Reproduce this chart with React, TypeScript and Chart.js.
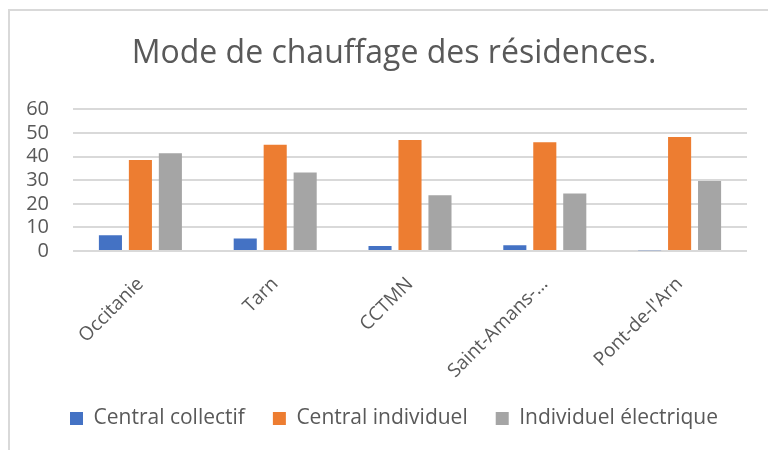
import React, { useEffect, useRef } from "react";
import { Chart, registerables } from "chart.js";

Chart.register(...registerables);

const categories = ["Occitanie", "Tarn", "CCTMN", "Saint-Amans-…", "Pont-de-l'Arn"];
const centralCollectif = [6.7, 5.3, 2.1, 2.4, 0.3];
const centralIndividuel = [38.6, 45.0, 47.0, 46.1, 48.3];
const individuelElectrique = [41.4, 33.3, 23.6, 24.4, 29.7];
const seriesNames = ["Central collectif", "Central individuel", "Individuel électrique"];
const titleText = "Mode de chauffage des résidences.";

const FONT = "'Open Sans', sans-serif";
const TEXT = "#595959";

export default function App() {
  const ref = useRef<HTMLCanvasElement | null>(null);

  useEffect(() => {
    document.body.style.margin = "0";
    const ctx = ref.current!;
    const chart = new Chart(ctx, {
      type: "bar",
      data: {
        labels: categories,
        datasets: [
          { label: seriesNames[0], data: centralCollectif, backgroundColor: "#4472C4" },
          { label: seriesNames[1], data: centralIndividuel, backgroundColor: "#ED7D31" },
          { label: seriesNames[2], data: individuelElectrique, backgroundColor: "#A5A5A5" },
        ].map((d) => ({ ...d, categoryPercentage: 0.667, barPercentage: 0.77 })),
      },
      options: {
        animation: false,
        responsive: true,
        maintainAspectRatio: false,
        layout: { padding: { left: 0, right: 8, top: 0, bottom: 13 } },
        plugins: {
          title: {
            display: true,
            text: titleText,
            color: TEXT,
            font: { family: FONT, size: 32, weight: "normal" },
            padding: { top: 24, bottom: 36 },
          },
          legend: {
            position: "bottom",
            labels: {
              color: TEXT,
              font: { family: FONT, size: 21 },
              boxWidth: 13,
              boxHeight: 13,
              padding: 28,
            },
          },
          tooltip: { enabled: false },
        },
        scales: {
          x: {
            grid: { display: false },
            border: { display: false },
            ticks: {
              color: TEXT,
              font: { family: FONT, size: 19 },
              minRotation: 45,
              maxRotation: 45,
              autoSkip: false,
              padding: 14,
            },
            afterFit: (s: any) => {
              s.height = 129;
            },
          },
          y: {
            min: 0,
            max: 60,
            grid: { color: "#D9D9D9", lineWidth: 2, drawTicks: false },
            border: { display: false },
            ticks: {
              stepSize: 10,
              autoSkip: false,
              color: TEXT,
              font: { family: FONT, size: 20 },
              padding: 24,
            },
            afterFit: (s: any) => {
              s.width = 63;
            },
          },
          spacer: {
            type: "linear",
            position: "right",
            display: true,
            grid: { display: false, drawTicks: false },
            border: { display: false },
            ticks: { display: false },
            afterFit: (s: any) => {
              s.width = 31;
            },
          },
        },
      },
    });
    return () => chart.destroy();
  }, []);

  return (
    <div style={{ width: 768, height: 450, overflow: "hidden", position: "relative", background: "#fff" }}>
      <div
        style={{
          position: "absolute",
          left: 8,
          top: 9,
          width: 776,
          height: 441,
          borderLeft: "2px solid #D9D9D9",
          borderTop: "2px solid #D9D9D9",
        }}
      >
        <canvas ref={ref} />
      </div>
    </div>
  );
}
